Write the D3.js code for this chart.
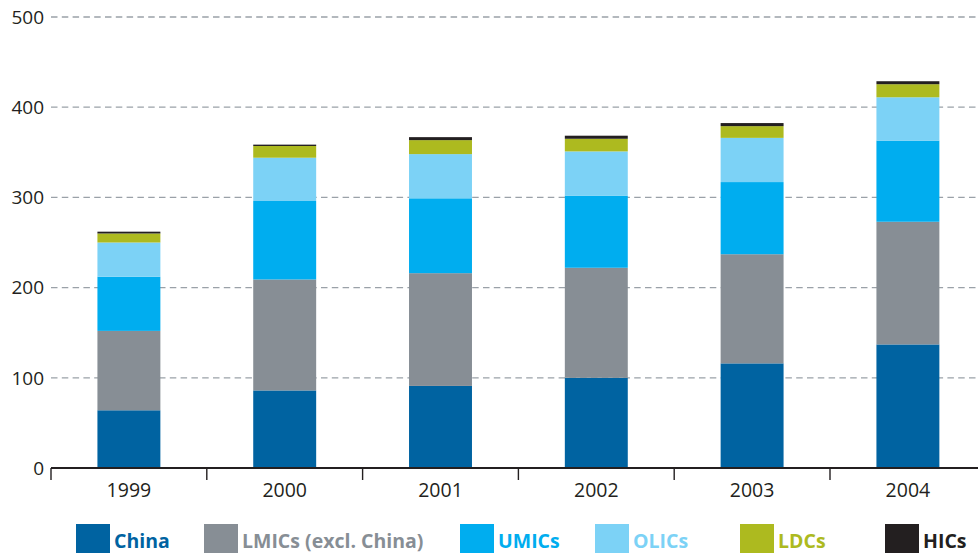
<!DOCTYPE html>
<html>
<head>
<meta charset="utf-8">
<script src="https://cdn.jsdelivr.net/npm/d3@7"></script>
<style>
  html, body { margin: 0; padding: 0; background: #fff; }
  svg { display: block; font-family: "Open Sans", "Noto Sans", sans-serif; }
</style>
</head>
<body>
<svg id="chart" width="978" height="553"></svg>
<script>
// Years on the x axis
const years = ["1999", "2000", "2001", "2002", "2003", "2004"];

// Series values, stacked bottom to top
const china  = [64, 86, 91, 100, 116, 137];
const lmics  = [88, 123, 125, 122, 121, 136];
const umics  = [60, 87, 83, 80, 80, 90];
const olics  = [38, 48, 49, 49, 49, 48];
const ldcs   = [10, 13, 15.5, 14, 13, 14.5];
const hics   = [2, 1.5, 3.3, 3.4, 3.4, 3.3];

const seriesNames = ["China", "LMICs (excl. China)", "UMICs", "OLICs", "LDCs", "HICs"];
const seriesKeys  = ["china", "lmics", "umics", "olics", "ldcs", "hics"];
const seriesColors = ["#0063a1", "#878e95", "#00adef", "#7cd2f6", "#adba1f", "#231f20"];

const yTicks = [0, 100, 200, 300, 400, 500];

const values = { china, lmics, umics, olics, ldcs, hics };
const rows = years.map((yr, i) => {
  const r = { year: yr };
  seriesKeys.forEach(k => r[k] = values[k][i]);
  return r;
});

const svg = d3.select("#chart");
const W = 978;
const left = 51;

const x = d3.scaleBand()
  .domain(years)
  .range([left, left + 6 * 155.8])
  .paddingInner(0.596)
  .paddingOuter(0.298);

const y = d3.scaleLinear().domain([0, 500]).range([468, 17]);

// Dashed horizontal gridlines
svg.append("g")
  .selectAll("line")
  .data(yTicks.filter(t => t > 0))
  .join("line")
  .attr("x1", left).attr("x2", W)
  .attr("y1", d => y(d)).attr("y2", d => y(d))
  .attr("stroke", "#9aa1a8")
  .attr("stroke-width", 1.3)
  .attr("stroke-dasharray", "6.5,4.3");

// Y axis labels
svg.append("g")
  .selectAll("text")
  .data(yTicks)
  .join("text")
  .attr("x", 44)
  .attr("y", d => y(d))
  .attr("dy", "0.36em")
  .attr("text-anchor", "end")
  .attr("font-size", 19)
  .attr("fill", "#231f20")
  .text(d => d);

// Stacked bars
const stack = d3.stack().keys(seriesKeys)(rows);
svg.append("g")
  .selectAll("g")
  .data(stack)
  .join("g")
  .attr("fill", (d, i) => seriesColors[i])
  .selectAll("rect")
  .data(d => d)
  .join("rect")
  .attr("x", d => x(d.data.year))
  .attr("width", x.bandwidth())
  .attr("y", d => y(d[1]))
  .attr("height", d => y(d[0]) - y(d[1]));

// X axis baseline and category dividers
const step = x.step();
const axis = svg.append("g");
axis.append("line")
  .attr("x1", left).attr("x2", W)
  .attr("y1", 468).attr("y2", 468)
  .attr("stroke", "#231f20")
  .attr("stroke-width", 2);
axis.selectAll("line.tick")
  .data(d3.range(years.length))
  .join("line")
  .attr("class", "tick")
  .attr("x1", i => left + i * step).attr("x2", i => left + i * step)
  .attr("y1", 468).attr("y2", 480)
  .attr("stroke", "#231f20")
  .attr("stroke-width", 1.4);
axis.selectAll("text")
  .data(years)
  .join("text")
  .attr("x", d => x(d) + x.bandwidth() / 2)
  .attr("y", 497)
  .attr("text-anchor", "middle")
  .attr("font-size", 19.5)
  .attr("fill", "#231f20")
  .text(d => d);

// Legend
const legendX = [76, 204, 460, 595, 740, 885];
const legend = svg.append("g")
  .selectAll("g")
  .data(seriesNames)
  .join("g")
  .attr("transform", (d, i) => `translate(${legendX[i]},524)`);
legend.append("rect")
  .attr("width", 34).attr("height", 30)
  .attr("fill", (d, i) => seriesColors[i]);
legend.append("text")
  .attr("x", 38)
  .attr("y", 23.5)
  .attr("font-size", 19.5)
  .attr("font-weight", "bold")
  .attr("fill", (d, i) => seriesColors[i])
  .text(d => d);
</script>
</body>
</html>
